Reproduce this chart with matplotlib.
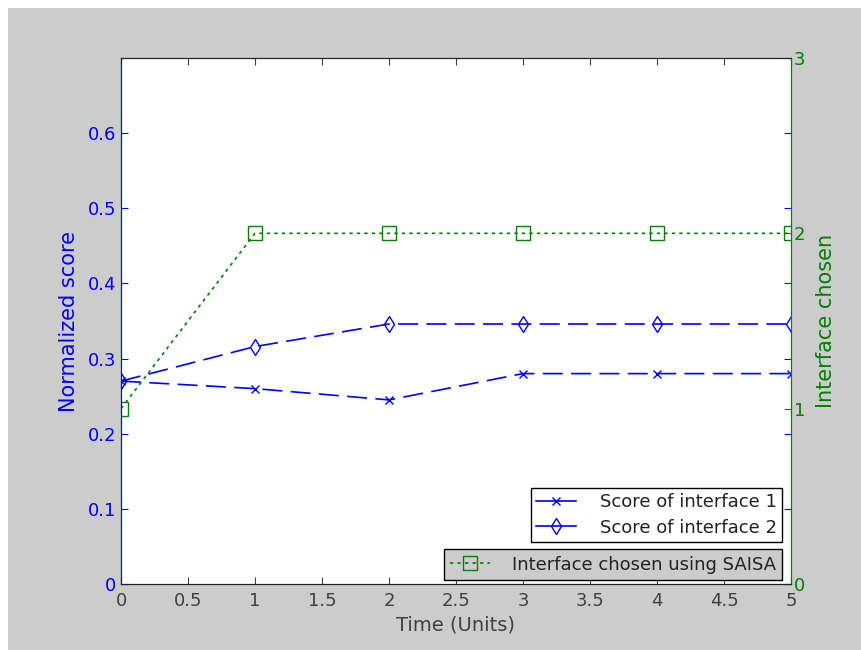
import matplotlib.pyplot as plt
from matplotlib.patches import Rectangle
from matplotlib.lines import Line2D

time = [0, 1, 2, 3, 4, 5]
score1 = [0.270, 0.260, 0.245, 0.280, 0.280, 0.280]
score2 = [0.270, 0.316, 0.346, 0.346, 0.346, 0.346]
chosen = [1, 2, 2, 2, 2, 2]

blue = (0, 0, 1)
green = (0, 0.5, 0)
grey = '#cccccc'
txt = '#404040'

fig = plt.figure(figsize=(8.61, 6.5), dpi=100, facecolor='white')
fig.patches.append(Rectangle((8 / 861, 0), 1, 1 - 8 / 650, transform=fig.transFigure,
                             facecolor=grey, edgecolor='none', zorder=-1))

ax = fig.add_axes([121 / 861, 66 / 650, 670 / 861, 526 / 650])
ax.set_facecolor('white')
ax2 = ax.twinx()

ax.plot(time, score1, color=blue, linestyle=(0, (12, 5)), linewidth=1.2,
        marker='x', markersize=6)
ax.plot(time, score2, color=blue, linestyle=(0, (12, 5)), linewidth=1.2,
        marker='d', markersize=8, markerfacecolor='none')
ax2.plot(time, chosen, color=green, linestyle=(0, (2, 2.5)), linewidth=1.2,
         marker='s', markersize=10, markerfacecolor='none')

# legend proxies (matlab draws short solid handles for the dashed lines)
h1 = Line2D([], [], color=blue, linewidth=1.2, marker='x', markersize=6)
h2 = Line2D([], [], color=blue, linewidth=1.2, marker='d', markersize=8, markerfacecolor='none')
h3 = Line2D([], [], color=green, linewidth=1.2, linestyle=(0, (2, 2.5)), marker='s',
            markersize=10, markerfacecolor='none')

ax.set_xlim(0, 5)
ax.set_ylim(0, 0.7)
ax.set_yticks([0, 0.1, 0.2, 0.3, 0.4, 0.5, 0.6])
ax.set_yticklabels(['0', '0.1', '0.2', '0.3', '0.4', '0.5', '0.6'])
ax.set_xticks([0, 0.5, 1, 1.5, 2, 2.5, 3, 3.5, 4, 4.5, 5])
ax.set_xticklabels(['0', '0.5', '1', '1.5', '2', '2.5', '3', '3.5', '4', '4.5', '5'])
ax2.set_ylim(0, 3)
ax2.set_yticks([0, 1, 2, 3])

ax.tick_params(axis='x', direction='in', top=True, colors=txt, labelsize=13, length=5, pad=6)
ax.tick_params(axis='y', direction='in', right=True, colors=blue, labelsize=13, length=5)
ax2.tick_params(axis='y', direction='in', colors=green, labelsize=13, length=5, pad=2)

for a in (ax, ax2):
    a.spines['top'].set_color('#222222')
    a.spines['bottom'].set_color('#222222')
    a.spines['left'].set_color(blue)
    a.spines['right'].set_color(green)

ax.set_xlabel('Time (Units)', color=txt, fontsize=14, labelpad=4)
ax.set_ylabel('Normalized score', color=blue, fontsize=15, labelpad=6)
ax2.set_ylabel('Interface chosen', color=green, fontsize=15, labelpad=8)

leg1 = ax2.legend(handles=[h1, h2], labels=['Score of interface 1', 'Score of interface 2'],
                  loc='upper right', bbox_to_anchor=(782 / 861, 1 - 488 / 650),
                  bbox_transform=fig.transFigure, fontsize=13, frameon=True, fancybox=False,
                  edgecolor='black', facecolor='white', framealpha=1, handlelength=2.2,
                  borderpad=0.3, labelspacing=0.4, handletextpad=1.3, borderaxespad=0)
leg1.get_frame().set_linewidth(1)
ax2.add_artist(leg1)
leg2 = ax2.legend(handles=[h3], labels=['Interface chosen using SAISA'],
                  loc='lower right', bbox_to_anchor=(782 / 861, 1 - 580 / 650),
                  bbox_transform=fig.transFigure, fontsize=13, frameon=True, fancybox=False,
                  edgecolor='black', facecolor=grey, framealpha=1, handlelength=2.2,
                  borderpad=0.35, handletextpad=1.2, borderaxespad=0)
leg2.get_frame().set_linewidth(1)
for t in leg1.get_texts() + leg2.get_texts():
    t.set_color('#222222')

fig.savefig('out.png', dpi=100, facecolor=fig.get_facecolor())
